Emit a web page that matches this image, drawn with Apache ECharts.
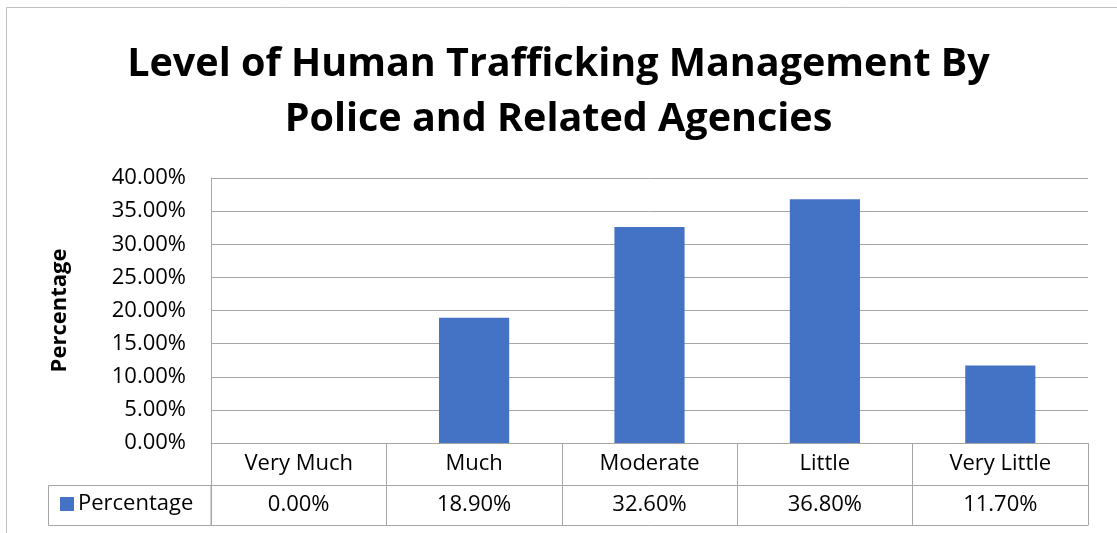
<!DOCTYPE html>
<html>
<head>
<meta charset="utf-8">
<script src="https://cdn.jsdelivr.net/npm/echarts@6/dist/echarts.min.js"></script>
<style>
html, body {margin: 0; padding: 0; background: #fff;}
#chart {width: 1117px; height: 533px;}
</style>
</head>
<body>
<div id="chart"></div>
<script>
var categories = ['Very Much', 'Much', 'Moderate', 'Little', 'Very Little'];
var values = [0.000, 0.189, 0.326, 0.368, 0.117];
var seriesName = 'Percentage';
var titleLines = ['Level of Human Trafficking Management By', 'Police and Related Agencies'];

var FONT = '"Open Sans", sans-serif';
var LINE = '#a6a6a6';

function pct(v) {
    return (v * 100).toFixed(2) + '%';
}

var chart = echarts.init(document.getElementById('chart'));
var option = {
    animation: false,
    textStyle: {fontFamily: FONT, color: '#000'},
    title: {
        text: titleLines.join('\n'),
        left: 'center',
        top: 32,
        textStyle: {fontFamily: FONT, fontSize: 39.5, fontWeight: 'bold', color: '#000', lineHeight: 55}
    },
    grid: {left: 211, right: 29, top: 178, bottom: 90},
    legend: {
        left: 55, top: 488,
        itemWidth: 14, itemHeight: 14, itemGap: 0,
        icon: 'rect',
        textStyle: {fontFamily: FONT, fontSize: 22, color: '#000', padding: [0, 0, 0, -1]},
        data: [seriesName]
    },
    xAxis: [{
        type: 'category',
        data: categories,
        axisLine: {lineStyle: {color: LINE, width: 1}},
        axisTick: {show: true, interval: 0, length: 82, lineStyle: {color: LINE}},
        axisLabel: {margin: 10, fontSize: 22, color: '#000', fontFamily: FONT, interval: 0}
    }, {
        type: 'category',
        data: categories,
        position: 'bottom',
        offset: 42,
        axisLine: {show: true, lineStyle: {color: LINE, width: 1}},
        axisTick: {show: false},
        axisLabel: {
            margin: 9, fontSize: 22, color: '#000', fontFamily: FONT, interval: 0,
            formatter: function(v, i) { return pct(values[i]); }
        }
    }, {
        type: 'category',
        data: categories,
        position: 'bottom',
        offset: 82,
        axisLine: {show: true, lineStyle: {color: LINE, width: 1}},
        axisTick: {show: false},
        axisLabel: {show: false}
    }],
    yAxis: {
        type: 'value',
        min: 0,
        max: 0.4,
        interval: 0.05,
        name: seriesName,
        nameLocation: 'middle',
        nameGap: 140,
        nameTextStyle: {fontFamily: FONT, fontSize: 22, fontWeight: 'bold', color: '#000'},
        axisLine: {show: true, lineStyle: {color: LINE}},
        axisTick: {show: false},
        axisLabel: {margin: 25, fontSize: 22, color: '#000', fontFamily: FONT, formatter: pct},
        splitLine: {lineStyle: {color: LINE}}
    },
    series: [{
        name: seriesName,
        type: 'bar',
        data: values,
        barWidth: '40%',
        itemStyle: {color: '#4472C4'}
    }],
    graphic: [{
        type: 'rect',
        shape: {x: 6.5, y: 7.5, width: 1300, height: 700},
        style: {fill: 'none', stroke: '#bfbfbf', lineWidth: 1},
        silent: true
    }, {
        type: 'rect',
        shape: {x: 48.5, y: 485.5, width: 162.5, height: 40},
        style: {fill: 'none', stroke: LINE, lineWidth: 1},
        silent: true
    }]
};
chart.setOption(option);
</script>
</body>
</html>
